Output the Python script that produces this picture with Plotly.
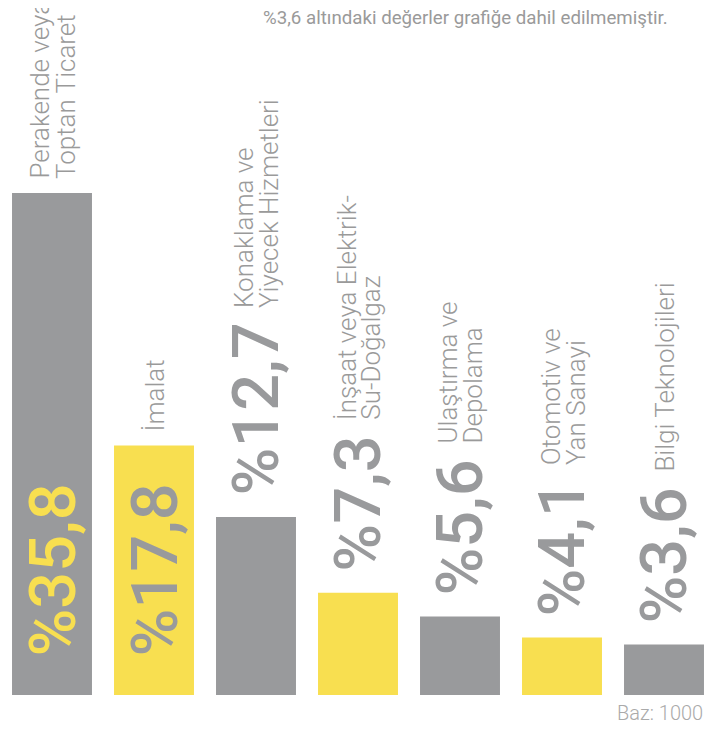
import plotly.graph_objects as go

sektorler = [
    "Perakende veya Toptan Ticaret",
    "İmalat",
    "Konaklama ve Yiyecek Hizmetleri",
    "İnşaat veya Elektrik-Su-Doğalgaz",
    "Ulaştırma ve Depolama",
    "Otomotiv ve Yan Sanayi",
    "Bilgi Teknolojileri",
]
etiket_satirlari = [
    ["Perakende veya", "Toptan Ticaret"],
    ["İmalat"],
    ["Konaklama ve", "Yiyecek Hizmetleri"],
    ["İnşaat veya Elektrik-", "Su-Doğalgaz"],
    ["Ulaştırma ve", "Depolama"],
    ["Otomotiv ve", "Yan Sanayi"],
    ["Bilgi Teknolojileri"],
]
oranlar = [35.8, 17.8, 12.7, 7.3, 5.6, 4.1, 3.6]
oran_etiketleri = ["%35,8", "%17,8", "%12,7", "%7,3", "%5,6", "%4,1", "%3,6"]

GRI = "#999a9c"
SARI = "#f8df50"
renkler = [GRI if i % 2 == 0 else SARI for i in range(len(oranlar))]

# rough Roboto advance widths (em) to stack the labels
genislik = {"%": 0.733, ",": 0.196}
NUM_SIZE = 65
CAT_SIZE = 26


def metin_boyu(s, size):
    return sum(genislik.get(c, 0.562) for c in s) * size


fig = go.Figure(go.Bar(
    x=sektorler,
    y=oranlar,
    marker_color=renkler,
    marker_line_width=0,
    hoverinfo="skip",
))

annotations = []
for i, (kat, v, lbl) in enumerate(zip(sektorler, oranlar, oran_etiketleri)):
    inside = v > 15
    if inside:
        num_y, num_shift = 0, 36
        num_color = SARI if renkler[i] == GRI else GRI
        cat_shift = 12
    else:
        num_y, num_shift = v, 19
        num_color = GRI
        cat_shift = num_shift + metin_boyu(lbl, NUM_SIZE) + 18
    annotations.append(dict(
        x=kat, y=num_y, yshift=num_shift, text=lbl, textangle=-90,
        showarrow=False, xanchor="center", yanchor="bottom",
        font=dict(family="Roboto", size=NUM_SIZE, color=num_color, weight=500),
    ))
    satirlar = etiket_satirlari[i]
    n = len(satirlar)
    for j, s in enumerate(satirlar):
        annotations.append(dict(
            x=kat, y=v, yshift=cat_shift, xshift=(j - (n - 1) / 2) * 25 + 1,
            text=s, textangle=-90, showarrow=False,
            xanchor="center", yanchor="bottom",
            font=dict(family="Roboto", size=CAT_SIZE, color="#9a9a9a", weight=300),
        ))

annotations.append(dict(
    xref="paper", yref="paper", x=662 / 714, y=1, yshift=-10,
    xanchor="right", yanchor="middle", showarrow=False,
    text="%3,6 altındaki değerler grafiğe dahil edilmemiştir.",
    font=dict(family="Roboto", size=18.7, color="#9a9a9a"),
))
annotations.append(dict(
    xref="paper", yref="paper", x=697 / 714, y=0, yshift=-18,
    xanchor="right", yanchor="middle", showarrow=False,
    text="Baz: 1000",
    font=dict(family="Roboto", size=20, color="#aaaaaa", weight=300),
))

# the page adds an 8px body margin, so the figure is sized to fit the window
fig.update_layout(
    width=714, height=723,
    margin=dict(l=0, r=0, t=0, b=36),
    paper_bgcolor="white", plot_bgcolor="white",
    bargap=0.216,
    showlegend=False,
    annotations=annotations,
    xaxis=dict(visible=False, range=[-44 / 102, 7 - 44 / 102]),
    yaxis=dict(visible=False, range=[0, 687 / 14.02]),
)

fig.write_html("out.html")
